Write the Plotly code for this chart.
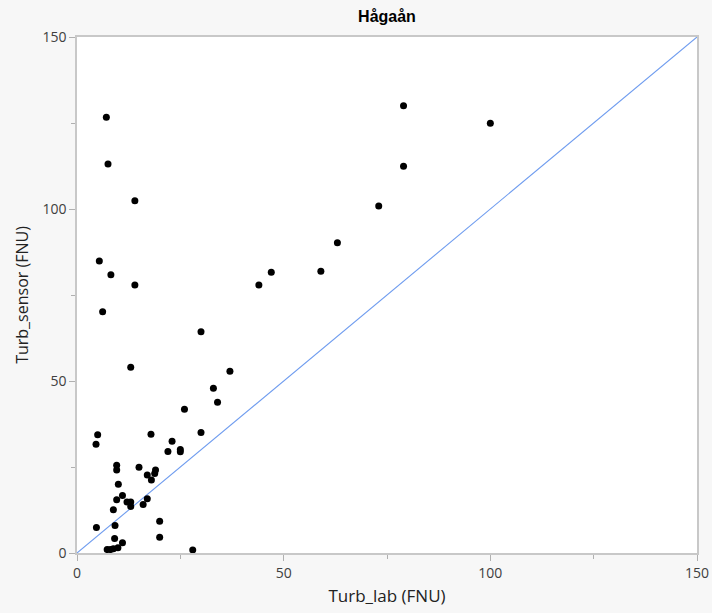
import plotly.graph_objects as go

turb_lab = [33.0, 34.0, 26.0, 5.0, 4.6, 17.9, 30.0, 23.0, 22.0, 25.0, 25.0,
            9.6, 9.6, 15.0, 19.0, 18.8, 17.0, 18.0, 10.0, 9.6, 11.0, 12.1,
            13.0, 13.0, 17.0, 16.0, 8.8, 4.7, 9.2, 20.0, 20.0, 9.1, 11.0,
            7.3, 8.1, 8.8, 9.9, 28.0,
            7.1, 7.5, 14.0, 5.4, 8.2, 14.0, 6.2, 13.0,
            47.0, 44.0, 30.0, 37.0,
            79.0, 100.0, 79.0, 73.0, 63.0, 59.0]
turb_sensor = [47.9, 43.8, 41.8, 34.4, 31.6, 34.5, 35.0, 32.5, 29.5, 30.1, 29.4,
               25.5, 24.1, 24.9, 24.1, 23.1, 22.7, 21.2, 20.0, 15.5, 16.7, 14.8,
               14.8, 13.5, 15.8, 14.1, 12.6, 7.4, 8.0, 9.2, 4.6, 4.2, 3.0,
               1.0, 1.0, 1.2, 1.5, 0.9,
               126.7, 113.1, 102.4, 84.9, 80.9, 77.9, 70.1, 54.0,
               81.6, 77.9, 64.3, 52.8,
               130.0, 124.9, 112.4, 100.9, 90.2, 81.9]
line_x = [0, 150]
line_y = [0, 150]

fig = go.Figure()
fig.add_trace(go.Scatter(x=line_x, y=line_y, mode="lines",
                         line=dict(color="#6f9cef", width=1.1), showlegend=False,
                         hoverinfo="skip"))
fig.add_trace(go.Scatter(x=turb_lab, y=turb_sensor, mode="markers",
                         marker=dict(color="black", size=7), showlegend=False))

axis_common = dict(range=[0, 150], tickvals=[0, 50, 100, 150],
                   showgrid=False, zeroline=False, showline=True, mirror=True,
                   linecolor="#c8c8c8", linewidth=1.5, automargin=False,
                   ticks="outside", ticklen=6, tickcolor="#b0b0b0",
                   minor=dict(tickvals=[25, 75, 125], ticks="outside", ticklen=4,
                              tickcolor="#b0b0b0"),
                   tickfont=dict(size=14, color="#404040"))

fig.update_layout(
    width=712, height=613,
    margin=dict(l=77, r=15, t=37, b=60),
    paper_bgcolor="#f7f7f7", plot_bgcolor="white",
    font=dict(family="Open Sans, Noto Sans, sans-serif", color="#222222"),
    title=dict(text="<b>Hågaån</b>", x=0.5, xanchor="center",
               xref="paper", yref="container", y=0.983,
               yanchor="top", font=dict(size=16, color="black",
                                        family="Liberation Sans, Arial, sans-serif")),
    xaxis=dict(**axis_common, title=dict(text="Turb_lab (FNU)", font=dict(size=17),
                                         standoff=10)),
    yaxis=dict(**axis_common, title=dict(text="Turb_sensor (FNU)", font=dict(size=16),
                                         standoff=10)),
)

post = ("document.body.style.margin='0';document.body.style.overflow='hidden';"
        "document.documentElement.style.background='#f7f7f7';")
fig.write_html("out.html", post_script=post, config={"displayModeBar": False})
